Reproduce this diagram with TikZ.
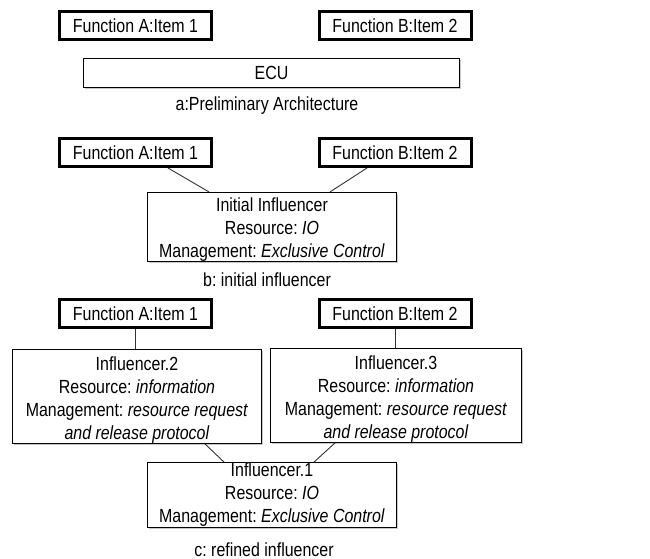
\documentclass[tikz,border=0pt]{standalone}
\usepackage{fontspec}
\setmainfont[FakeStretch=0.84]{Liberation Sans}
\usetikzlibrary{calc,shadows}
\newcommand\tstr[1]{\rule{0pt}{#1}}
\begin{document}
\frenchspacing
\begin{tikzpicture}[x=1pt,y=-1pt,
  every node/.style={font=\fontsize{19}{23}\selectfont},
  shad/.style={drop shadow={shadow xshift=1.2pt,shadow yshift=-1.5pt,opacity=0.3,fill=black!70}},
  fbox/.style={draw=black,line width=3pt,fill=white,minimum width=152pt,minimum height=28pt,inner sep=0pt,shad},
  ibox/.style={draw=black,line width=0.9pt,fill=white,align=center,inner sep=0pt,shad},
  link/.style={draw=black!80,line width=0.9pt},
  captext/.style={anchor=base}]
\useasboundingbox (0,0) rectangle (650,559);
% ---- a
\node[fbox] (fa1) at (135.5,25.5) {Function A:Item 1};
\node[fbox] (fb1) at (395,25.5) {Function B:Item 2};
\node[ibox,minimum width=376pt,minimum height=29pt] (ecu) at (271.5,73) {ECU};
\node[captext] (capa) at (267,110.5) {a:Preliminary Architecture};
% ---- b
\node[fbox] (fa2) at (135.5,152.5) {Function A:Item 1};
\node[fbox] (fb2) at (395,152.5) {Function B:Item 2};
\node[ibox,minimum width=249pt,minimum height=69pt] (ii) at (272,227)
  {\tstr{19.3pt}Initial Influencer\\Resource: \textit{IO}\\Management: \textit{Exclusive Control}};
\node[captext] (capb) at (267,286.5) {b: initial influencer};
% ---- c
\node[fbox] (fa3) at (135.5,313.5) {Function A:Item 1};
\node[fbox] (fb3) at (395,313.5) {Function B:Item 2};
\node[ibox,minimum width=249pt,minimum height=94pt] (inf2) at (137,396.5)
  {\tstr{20pt}Influencer.2\\Resource: \textit{information}\\Management: \textit{resource request}\\\textit{and release protocol}};
\node[ibox,minimum width=251pt,minimum height=94pt] (inf3) at (396,395.5)
  {\tstr{20pt}Influencer.3\\Resource: \textit{information}\\Management: \textit{resource request}\\\textit{and release protocol}};
\node[ibox,minimum width=249pt,minimum height=65pt] (inf1) at (272,495)
  {Influencer.1\\Resource: \textit{IO}\\Management: \textit{Exclusive Control}};
\node[captext] (capc) at (264,556) {c: refined influencer};
% connectors
\draw[link] ($(fa2.south)+(32.5,0)$) -- ($(ii.north)+(-63,0)$);
\draw[link] ($(fb2.south)+(-28,0)$) -- ($(ii.north)+(58,0)$);
\draw[link] (fa3.south) -- (fa3.south |- inf2.north);
\draw[link] (fb3.south) -- (fb3.south |- inf3.north);
\draw[link] ($(inf2.south)+(68,0)$) -- ($(inf1.north)+(-48,0)$);
\draw[link] ($(inf3.south)+(-61,0)$) -- ($(inf1.north)+(42,0)$);
\end{tikzpicture}
\end{document}
